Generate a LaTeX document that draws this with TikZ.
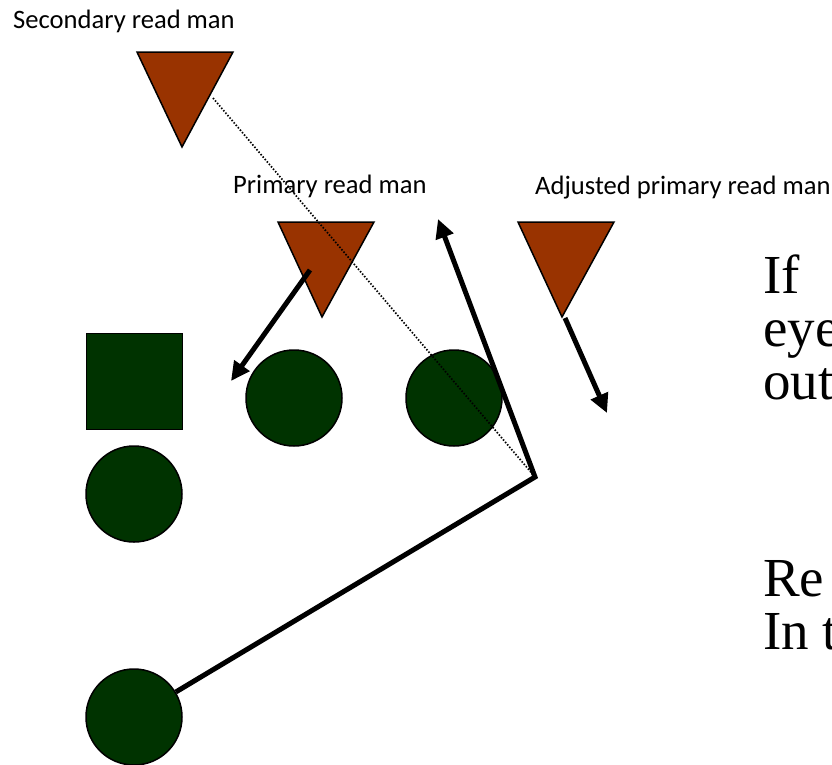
\documentclass[tikz,border=0pt]{standalone}
\usepackage{fontspec}
\setmainfont{Liberation Serif}
\newfontfamily\labelfont{Carlito}
\usetikzlibrary{arrows.meta}
\definecolor{defbrown}{HTML}{993300}
\definecolor{offgreen}{HTML}{003300}
\begin{document}
\begin{tikzpicture}[x=1pt,y=-1pt,
  defender/.style={fill=defbrown,draw=black,line width=1.5pt,line join=miter},
  player/.style={circle,fill=offgreen,draw=black,line width=1.5pt,minimum size=96pt,inner sep=0pt},
  lineman/.style={rectangle,fill=offgreen,draw=black,line width=1.8pt,minimum size=96pt,inner sep=0pt},
  route/.style={line width=5pt,line join=miter,-{Triangle[length=19pt,width=18pt]}},
  readline/.style={line width=1.7pt,dash pattern=on 1.5pt off 1.7pt},
  lbl/.style={anchor=base west,inner sep=0pt,font=\labelfont\fontsize{26.6}{30}\selectfont},
  big/.style={anchor=north west,inner sep=0pt,align=left,font=\fontsize{55}{53}\selectfont}]
\useasboundingbox (0,0) rectangle (832,764);
\clip (0,0) rectangle (832,764);
% labels
\node[lbl] (l1) at (13,28) {Secondary read man};
\node[lbl] (l2) at (233,193) {Primary read man};
\node[lbl] (l3) at (535,194) {Adjusted primary read man};
% defenders (lower)
\fill[defender] (278,222) -- (374,222) -- (322,317) -- cycle;
\fill[defender] (518,222) -- (614,222) -- (562,317) -- cycle;
% offense
\node[lineman] (ol) at (134.5,381.5) {};
\node[player] (p1) at (294,398) {};
\node[player] (p2) at (454,398) {};
\node[player] (p3) at (134,494) {};
\node[player] (qb) at (134,717) {};
% read line
\coordinate (sr) at (213,98);
\coordinate (v) at (535,477);
\draw[readline] (sr) -- (v);
% secondary read man
\fill[defender] (137,52) -- (233,52) -- (182,147) -- cycle;
% routes
\coordinate (tip) at (438,219);
\draw[route] (qb) -- (v) -- (tip);
\coordinate (a2s) at (310,270);
\coordinate (a2e) at (231,381);
\draw[route] (a2s) -- (a2e);
\coordinate (a3s) at (565,318);
\coordinate (a3e) at (607,413);
\draw[route] (a3s) -- (a3e);
% right text (cut off at the edge)
\node[big] (t1) at (763,255) {If\\eye\\out};
\node[big] (t2) at (763,560) {Re\\In t};
\end{tikzpicture}
\end{document}
